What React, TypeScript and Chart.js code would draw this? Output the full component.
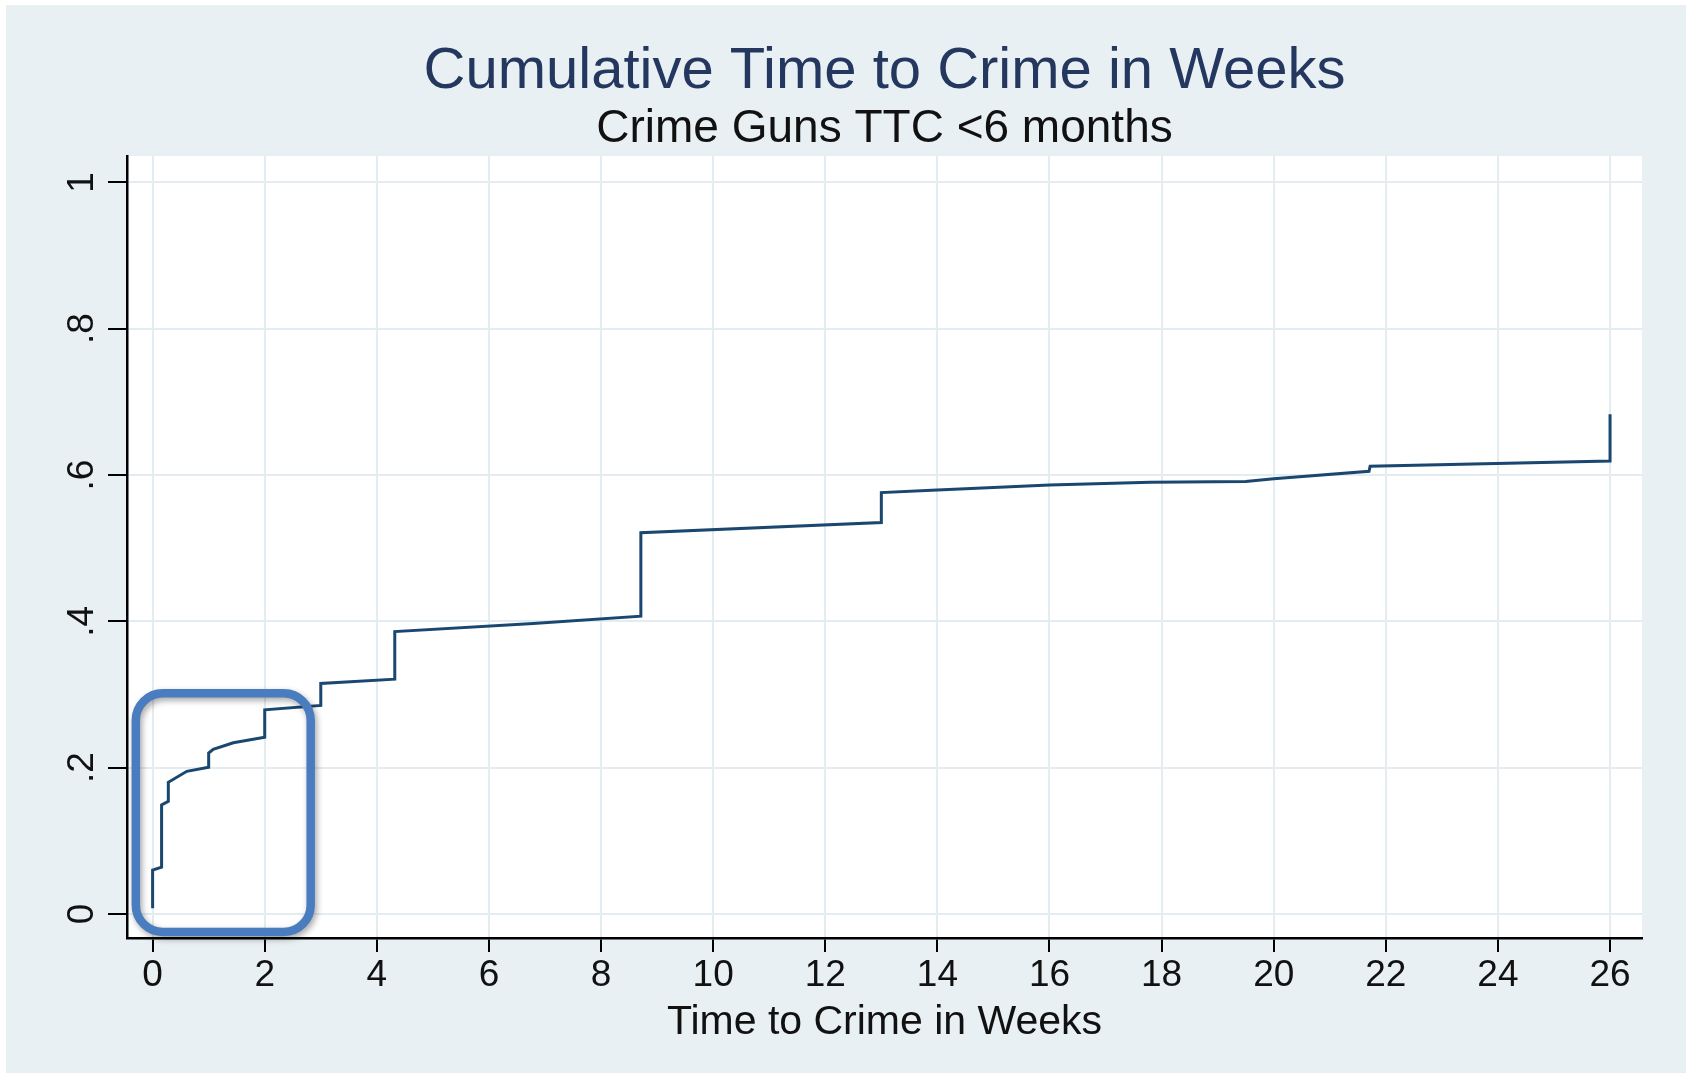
import React, { useEffect, useRef } from 'react';
import { Chart, registerables } from 'chart.js';

Chart.register(...registerables);

// ---- data ----
const titleText = 'Cumulative Time to Crime in Weeks';
const subtitleText = 'Crime Guns TTC <6 months';
const xTitleText = 'Time to Crime in Weeks';

const weeks = [0, 0, 0.16, 0.16, 0.28, 0.28, 0.61, 1.0, 1.0, 1.08, 1.44, 2.0, 2.0, 3.0, 3.0, 4.32, 4.32, 6.79, 8.71, 8.71, 13.0, 13.0, 13.9, 16.0, 17.8, 19.5, 20.0, 21.7, 21.72, 26.0, 26.0];
const cumShare = [0.008, 0.060, 0.064, 0.149, 0.154, 0.180, 0.195, 0.2005, 0.220, 0.225, 0.234, 0.2416, 0.279, 0.285, 0.315, 0.321, 0.386, 0.397, 0.407, 0.521, 0.535, 0.576, 0.579, 0.5865, 0.590, 0.591, 0.595, 0.605, 0.612, 0.619, 0.683];

const xTicks = [0, 2, 4, 6, 8, 10, 12, 14, 16, 18, 20, 22, 24, 26];
const yTicks = [0, 0.2, 0.4, 0.6, 0.8, 1];
const yTickLabels = ['0', '.2', '.4', '.6', '.8', '1'];
const xRange = [-0.457, 26.57];
const yRange = [-0.0328, 1.036];

// highlight box around the first two weeks (data space)
const boxWeeks = [-0.3, 2.82];
const boxShare = [-0.0246, 0.3017];

// ---- styles ----
const FONT = "'Liberation Sans', Arial, Helvetica, sans-serif";
const bgColor = '#e9f0f3';
const gridColor = '#e3ecf0';
const lineColor = '#1a476f';
const titleColor = '#24375f';
const boxColor = '#4a7dbf';

const bgPlugin = {
  id: 'bgPlugin',
  beforeDraw(chart: any) {
    const { ctx, width, height, chartArea } = chart;
    ctx.save();
    ctx.fillStyle = '#ffffff';
    ctx.fillRect(0, 0, width, height);
    ctx.fillStyle = bgColor;
    ctx.fillRect(6, 5, width - 6, height - 5);
    ctx.fillStyle = '#ffffff';
    ctx.fillRect(chartArea.left, chartArea.top, chartArea.right - chartArea.left, chartArea.bottom - chartArea.top);
    ctx.restore();
  },
};

const yLabelPlugin = {
  id: 'yLabelPlugin',
  afterDraw(chart: any) {
    const { ctx, scales } = chart;
    const y = scales.y;
    const baseX = chart.chartArea.left - 34;
    ctx.save();
    ctx.fillStyle = '#111111';
    ctx.font = `37px ${FONT}`;
    ctx.textAlign = 'center';
    ctx.textBaseline = 'alphabetic';
    yTicks.forEach((v, i) => {
      const py = y.getPixelForValue(v);
      ctx.save();
      ctx.translate(baseX, py);
      ctx.rotate(-Math.PI / 2);
      ctx.fillText(yTickLabels[i], 0, 0);
      ctx.restore();
    });
    ctx.restore();
  },
};

const boxPlugin = {
  id: 'boxPlugin',
  afterDatasetsDraw(chart: any) {
    const { ctx, scales } = chart;
    const x0 = scales.x.getPixelForValue(boxWeeks[0]);
    const x1 = scales.x.getPixelForValue(boxWeeks[1]);
    const y0 = scales.y.getPixelForValue(boxShare[1]);
    const y1 = scales.y.getPixelForValue(boxShare[0]);
    ctx.save();
    ctx.strokeStyle = boxColor;
    ctx.lineWidth = 8.5;
    ctx.shadowColor = 'rgba(0,0,0,0.35)';
    ctx.shadowBlur = 6;
    ctx.shadowOffsetX = 2;
    ctx.shadowOffsetY = 3;
    ctx.beginPath();
    (ctx as any).roundRect(x0, y0, x1 - x0, y1 - y0, 27);
    ctx.stroke();
    ctx.restore();
  },
};

export default function App() {
  const ref = useRef<HTMLCanvasElement>(null);

  useEffect(() => {
    const canvas = ref.current;
    if (!canvas) return;
    const points = weeks.map((w, i) => ({ x: w, y: cumShare[i] }));
    const chart = new Chart(canvas, {
      type: 'line',
      data: {
        datasets: [
          {
            data: points,
            borderColor: lineColor,
            borderWidth: 3,
            pointRadius: 0,
            tension: 0,
            fill: false,
            borderJoinStyle: 'miter',
          } as any,
        ],
      },
      options: {
        responsive: false,
        animation: false,
        devicePixelRatio: 1,
        layout: { padding: { left: 0, right: 44, top: 0, bottom: 0 } },
        plugins: {
          legend: { display: false },
          tooltip: { enabled: false },
          title: {
            display: true,
            text: titleText,
            color: titleColor,
            fullSize: false,
            font: { family: FONT, size: 58, weight: 'normal', lineHeight: 1 },
            padding: { top: 43.3, bottom: 0 },
          },
          subtitle: {
            display: true,
            text: subtitleText,
            color: '#111111',
            fullSize: false,
            font: { family: FONT, size: 46, weight: 'normal', lineHeight: 1 },
            padding: { top: 4.7, bottom: 4 },
          },
        } as any,
        scales: {
          x: {
            type: 'linear',
            min: xRange[0],
            max: xRange[1],
            afterBuildTicks: (s: any) => {
              s.ticks = xTicks.map((v) => ({ value: v }));
            },
            afterFit: (s: any) => {
              s.height = 135;
            },
            grid: {
              color: gridColor,
              lineWidth: 2,
              tickColor: '#000000',
              tickWidth: 2,
              tickLength: 14,
              drawTicks: true,
            },
            border: { display: true, color: '#000000', width: 2.5 },
            ticks: {
              font: { family: FONT, size: 37 },
              color: '#111111',
              padding: 2,
              minRotation: 0,
              maxRotation: 0,
              autoSkip: false,
              callback: (v: any) => String(v),
            },
            title: {
              display: true,
              text: xTitleText,
              color: '#111111',
              font: { family: FONT, size: 41 },
              padding: { top: 26, bottom: 26 },
            },
          },
          y: {
            type: 'linear',
            min: yRange[0],
            max: yRange[1],
            afterBuildTicks: (s: any) => {
              s.ticks = yTicks.map((v) => ({ value: v }));
            },
            afterFit: (s: any) => {
              s.width = 127;
            },
            grid: {
              color: gridColor,
              lineWidth: 2,
              tickColor: '#000000',
              tickWidth: 2,
              tickLength: 19,
              drawTicks: true,
            },
            border: { display: true, color: '#000000', width: 2.5 },
            ticks: {
              font: { family: FONT, size: 10 },
              color: 'rgba(0,0,0,0)',
              padding: 2,
              callback: (v: any) => String(v),
            },
          },
        },
      } as any,
      plugins: [bgPlugin, yLabelPlugin, boxPlugin],
    });
    return () => chart.destroy();
  }, []);

  return (
    <div style={{ position: 'fixed', left: 0, top: 0, width: 1686, height: 1073, background: '#ffffff' }}>
      <canvas ref={ref} width={1686} height={1073} style={{ display: 'block', width: 1686, height: 1073 }} />
    </div>
  );
}
